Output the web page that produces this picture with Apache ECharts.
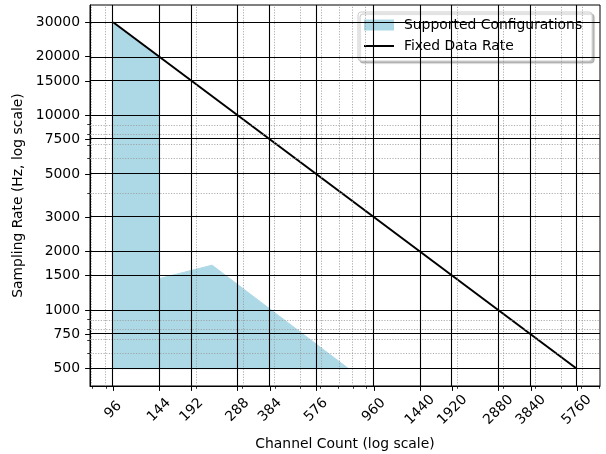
<!DOCTYPE html>
<html>
<head>
<meta charset="utf-8">
<script src="https://cdn.jsdelivr.net/npm/echarts@6/dist/echarts.min.js"></script>
<style>
  html, body { margin: 0; padding: 0; background: #fff; }
  #chart { width: 606px; height: 454px; }
</style>
</head>
<body>
<div id="chart"></div>
<script>
// tick positions (channel count / sampling rate, both log scale)
var xTicks = [96, 144, 192, 288, 384, 576, 960, 1440, 1920, 2880, 3840, 5760];
var yTicks = [500, 750, 1000, 1500, 2000, 3000, 5000, 7500, 10000, 15000, 20000, 30000];
var xMinor = [80, 90, 200, 300, 400, 500, 600, 700, 800, 900, 2000, 3000, 4000, 5000, 6000, 7000];
var yMinor = [600, 700, 800, 900, 2000, 3000, 4000, 5000, 6000, 7000, 8000, 9000, 20000, 30000];

// supported region outline
var fillChannels = [96, 96, 144, 144, 230, 768];
var fillRates = [500, 30000, 20000, 1450, 1700, 500];

// fixed data rate line
var lineChannels = [96, 5760];
var lineRates = [30000, 500];

var lg = Math.log10;
var FONT = 'DejaVu Sans';

// matplotlib style 5% margins in log space
function logRange(lo, hi) {
  var a = lg(lo), b = lg(hi), m = (b - a) * 0.05;
  return [a - m, b + m];
}
var xr = logRange(xTicks[0], xTicks[xTicks.length - 1]);
var yr = logRange(yTicks[0], yTicks[yTicks.length - 1]);

function fmt(v) { return String(Math.round(Math.pow(10, v))); }

var gridLines = [];
xTicks.forEach(function (v) {
  gridLines.push({ xAxis: lg(v), lineStyle: { color: '#000', width: 1.1, type: 'solid' } });
});
yTicks.forEach(function (v) {
  gridLines.push({ yAxis: lg(v), lineStyle: { color: '#000', width: 1.1, type: 'solid' } });
});
xMinor.forEach(function (v) {
  gridLines.unshift({ xAxis: lg(v), lineStyle: { color: '#999', width: 0.8, type: [1.2, 1.5] } });
});
yMinor.forEach(function (v) {
  gridLines.unshift({ yAxis: lg(v), lineStyle: { color: '#999', width: 0.8, type: [1.2, 1.5] } });
});

var chart = echarts.init(document.getElementById('chart'));

var option = {
  animation: false,
  textStyle: { fontFamily: FONT },
  grid: {
    left: 90, right: 6, top: 5, bottom: 68,
    outerBoundsMode: 'none', containLabel: false,
    show: true, borderColor: '#000', borderWidth: 1, backgroundColor: 'transparent'
  },
  legend: {
    data: [
      { name: 'Supported Configurations', icon: 'rect' },
      { name: 'Fixed Data Rate', itemStyle: { opacity: 0 } }
    ],
    orient: 'vertical',
    left: 358, top: 12,
    itemWidth: 30, itemHeight: 11, itemGap: 7,
    padding: [6, 10, 8, 5],
    backgroundColor: '#fff',
    borderColor: '#ccc', borderWidth: 1, borderRadius: 3,
    shadowColor: 'rgba(0,0,0,0.25)', shadowOffsetX: 2, shadowOffsetY: 2, shadowBlur: 1,
    textStyle: { fontFamily: FONT, fontSize: 13.9, color: '#000', padding: [0, 0, 0, 5] }
  },
  xAxis: [{
    type: 'value', min: xr[0], max: xr[1],
    name: 'Channel Count (log scale)', nameLocation: 'middle', nameGap: 51,
    nameTextStyle: { fontFamily: FONT, fontSize: 13.9, color: '#000' },
    axisLine: { show: true, lineStyle: { color: '#000', width: 1 } },
    axisTick: { show: true, inside: false, length: 4.9, customValues: xTicks.map(lg), lineStyle: { color: '#000', width: 1 } },
    axisLabel: {
      customValues: xTicks.map(lg), formatter: fmt, rotate: 45,
      align: 'center', verticalAlign: 'middle', margin: 24,
      fontFamily: FONT, fontSize: 13.9, color: '#000'
    },
    splitLine: { show: false }
  }, {
    type: 'value', min: xr[0], max: xr[1], position: 'bottom',
    axisLine: { show: false },
    axisTick: { show: true, length: 2.8, customValues: xMinor.map(lg), lineStyle: { color: '#000', width: 0.8 } },
    axisLabel: { show: false },
    splitLine: { show: false }
  }],
  yAxis: [{
    type: 'value', min: yr[0], max: yr[1],
    name: 'Sampling Rate (Hz, log scale)', nameLocation: 'middle', nameGap: 61, nameRotate: 90,
    nameTextStyle: { fontFamily: FONT, fontSize: 13.9, color: '#000' },
    axisLine: { show: true, lineStyle: { color: '#000', width: 1 } },
    axisTick: { show: true, inside: false, length: 4.9, customValues: yTicks.map(lg), lineStyle: { color: '#000', width: 1 } },
    axisLabel: {
      customValues: yTicks.map(lg), formatter: fmt, margin: 10,
      fontFamily: FONT, fontSize: 13.9, color: '#000'
    },
    splitLine: { show: false }
  }, {
    type: 'value', min: yr[0], max: yr[1], position: 'left',
    axisLine: { show: false },
    axisTick: { show: true, length: 2.8, customValues: yMinor.map(lg), lineStyle: { color: '#000', width: 0.8 } },
    axisLabel: { show: false },
    splitLine: { show: false }
  }],
  series: [
    {
      name: 'Supported Configurations',
      type: 'custom',
      z: 1,
      itemStyle: { color: '#add8e6' },
      data: [[lg(fillChannels[0]), lg(fillRates[0])]],
      renderItem: function (params, api) {
        var pts = fillChannels.map(function (c, i) {
          return api.coord([lg(c), lg(fillRates[i])]);
        });
        return {
          type: 'polygon',
          shape: { points: pts },
          style: { fill: '#add8e6', stroke: '#add8e6', lineWidth: 1 }
        };
      }
    },
    {
      name: 'grid',
      type: 'line',
      z: 2,
      data: [],
      markLine: {
        silent: true, symbol: 'none', animation: false,
        label: { show: false },
        data: gridLines
      }
    },
    {
      name: 'Fixed Data Rate',
      type: 'line',
      z: 3,
      symbol: 'none',
      lineStyle: { color: '#000', width: 2 },
      itemStyle: { color: '#000' },
      data: lineChannels.map(function (c, i) { return [lg(c), lg(lineRates[i])]; })
    }
  ]
};

chart.setOption(option);
</script>
</body>
</html>
